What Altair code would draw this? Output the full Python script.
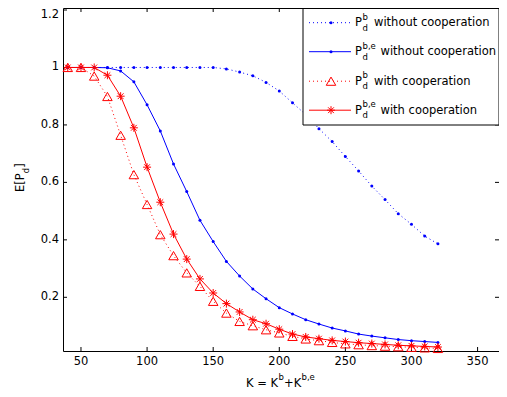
import altair as alt
import pandas as pd

# ---------------- data ----------------
K = [40, 50, 60, 70, 80, 90, 100, 110, 120, 130, 140, 150, 160, 170, 180,
     190, 200, 210, 220, 230, 240, 250, 260, 270, 280, 290, 300, 310, 320]
pb_without = [1.0, 1.0, 1.0, 1.0, 1.0, 1.0, 1.0, 1.0, 1.0, 1.0, 1.0, 1.0,
              0.995, 0.984, 0.971, 0.948, 0.918, 0.877, 0.836, 0.787, 0.742,
              0.69, 0.64, 0.587, 0.54, 0.491, 0.454, 0.413, 0.386]
pbe_without = [1.0, 1.0, 1.0, 0.999, 0.988, 0.950, 0.870, 0.779, 0.664, 0.568,
               0.468, 0.394, 0.325, 0.274, 0.229, 0.195, 0.164, 0.142, 0.122,
               0.107, 0.093, 0.083, 0.072, 0.065, 0.059, 0.053, 0.049, 0.046, 0.043]
pb_with = [1.0, 1.0, 0.97, 0.899, 0.764, 0.627, 0.523, 0.418, 0.345, 0.285,
           0.238, 0.186, 0.145, 0.116, 0.101, 0.087, 0.076, 0.064, 0.055,
           0.049, 0.043, 0.038, 0.035, 0.032, 0.030, 0.028, 0.026, 0.024, 0.022]
pbe_with = [1.0, 1.0, 1.0, 0.973, 0.900, 0.790, 0.653, 0.531, 0.420, 0.333,
            0.264, 0.215, 0.178, 0.149, 0.122, 0.108, 0.089, 0.072, 0.062,
            0.056, 0.050, 0.046, 0.042, 0.039, 0.036, 0.033, 0.031, 0.029, 0.027]
x_ticks = [50, 100, 150, 200, 250, 300, 350]
y_ticks = [0.2, 0.4, 0.6, 0.8, 1.0, 1.2]
x_domain = [36.4, 366.2]
y_domain = [0.0131, 1.207]

# ---------------- layout ----------------
W, H = 436, 343
FONT = "DejaVu Sans"
FS = 11.5
SUB = 8.5
BLUE = "#0000ff"
RED = "#ff0000"

df = pd.DataFrame({"K": K, "s1": pb_without, "s2": pbe_without,
                   "s3": pb_with, "s4": pbe_with})
xt = pd.DataFrame({"t": x_ticks})
yt = pd.DataFrame({"t": y_ticks})
dummy = pd.DataFrame({"d": [0]})

xs = alt.Scale(domain=x_domain, nice=False, zero=False)
ys = alt.Scale(domain=y_domain, nice=False, zero=False)

ASTER = "M-1,0H1M0,-1V1M-0.72,-0.72L0.72,0.72M-0.72,0.72L0.72,-0.72"


def series_line(col, color, dash=None):
    kw = dict(color=color, strokeWidth=1, clip=True)
    if dash:
        kw["strokeDash"] = dash
    return alt.Chart(df).mark_line(**kw).encode(
        x=alt.X("K:Q", scale=xs, axis=None),
        y=alt.Y(f"{col}:Q", scale=ys, axis=None))


def series_pts(col, shape, size, color, filled, sw=1):
    return alt.Chart(df).mark_point(shape=shape, size=size, filled=filled,
                                    color=color, strokeWidth=sw, opacity=1,
                                    fillOpacity=1 if filled else 0).encode(
        x=alt.X("K:Q", scale=xs, axis=None),
        y=alt.Y(f"{col}:Q", scale=ys, axis=None))


def txt(s, x, y, size=FS, angle=0):
    return alt.Chart(dummy).mark_text(
        text=s, font=FONT, fontSize=size, align="left", baseline="alphabetic",
        angle=angle, color="black").encode(x=alt.value(x), y=alt.value(y))


layers = []

# inner ticks on all four sides (box on, ticks inside)
layers.append(alt.Chart(xt).mark_rule(color="black", strokeWidth=1).encode(
    x=alt.X("t:Q", scale=xs, axis=None), y=alt.value(H), y2=alt.value(H - 4)))
layers.append(alt.Chart(xt).mark_rule(color="black", strokeWidth=1).encode(
    x=alt.X("t:Q", scale=xs, axis=None), y=alt.value(0), y2=alt.value(4)))
layers.append(alt.Chart(yt).mark_rule(color="black", strokeWidth=1).encode(
    y=alt.Y("t:Q", scale=ys, axis=None), x=alt.value(0), x2=alt.value(4)))
layers.append(alt.Chart(yt).mark_rule(color="black", strokeWidth=1).encode(
    y=alt.Y("t:Q", scale=ys, axis=None), x=alt.value(W - 4), x2=alt.value(W)))

# tick labels
layers.append(alt.Chart(xt).mark_text(
    font=FONT, fontSize=FS, color="black", align="center", baseline="top").encode(
    x=alt.X("t:Q", scale=xs, axis=None), y=alt.value(H + 5),
    text=alt.Text("t:Q", format="~g")))
layers.append(alt.Chart(yt).transform_filter("datum.t < 1.1").mark_text(
    font=FONT, fontSize=FS, color="black", align="right", baseline="middle").encode(
    y=alt.Y("t:Q", scale=ys, axis=None), x=alt.value(-4),
    text=alt.Text("t:Q", format="~g")))
layers.append(alt.Chart(yt).transform_filter("datum.t > 1.1").mark_text(
    font=FONT, fontSize=FS, color="black", align="right", baseline="middle",
    dy=5).encode(
    y=alt.Y("t:Q", scale=ys, axis=None), x=alt.value(-4),
    text=alt.Text("t:Q", format="~g")))

# series
layers.append(series_line("s1", BLUE, [1, 3]))
layers.append(series_pts("s1", "circle", 9, BLUE, True))
layers.append(series_line("s2", BLUE))
layers.append(series_pts("s2", "circle", 9, BLUE, True))
layers.append(series_line("s3", RED, [1, 3]))
layers.append(series_pts("s3", "triangle-up", 90, RED, False))
layers.append(series_line("s4", RED))
layers.append(series_pts("s4", ASTER, 64, RED, False))

# legend box
layers.append(alt.Chart(dummy).mark_rect(fill="white", stroke="black",
                                         strokeWidth=1).encode(
    x=alt.value(240), x2=alt.value(436), y=alt.value(0.5), y2=alt.value(117)))

entries = [
    ("b", "without cooperation", BLUE, [1, 3], "circle", 9, True, 18),
    ("b,e", "without cooperation", BLUE, None, "circle", 9, True, 47),
    ("b", "with cooperation", RED, [1, 3], "triangle-up", 90, False, 76.5),
    ("b,e", "with cooperation", RED, None, ASTER, 64, False, 105.5),
]
for sup, rest, color, dash, shape, size, filled, base in entries:
    ly = base - 3.3
    kw = dict(color=color, strokeWidth=1)
    if dash:
        kw["strokeDash"] = dash
    layers.append(alt.Chart(dummy).mark_rule(**kw).encode(
        x=alt.value(246), x2=alt.value(288), y=alt.value(ly)))
    layers.append(alt.Chart(dummy).mark_point(
        shape=shape, size=size, filled=filled, color=color, strokeWidth=1,
        opacity=1, fillOpacity=1 if filled else 0).encode(
        x=alt.value(268), y=alt.value(ly)))
    layers.append(txt("P", 292, base))
    layers.append(txt(sup, 299.5, base - 6.5, SUB))
    layers.append(txt("d", 299.5, base + 4.5, SUB))
    layers.append(txt(rest, 311 if sup == "b" else 317.5, base))

# x title: K = K^b+K^{b,e}
layers.append(txt("K = K", 183, 378.5))
layers.append(txt("b", 215.5, 372, SUB))
layers.append(txt("+K", 221, 378.5))
layers.append(txt("b,e", 238.5, 372, SUB))

# y title: E[P_d]
layers.append(txt("E[P", -39, 184, angle=270))
layers.append(txt("d", -34, 165.3, SUB, angle=270))
layers.append(txt("]", -39, 159.8, angle=270))

chart = alt.layer(*layers).properties(
    width=W, height=H,
    autosize=alt.AutoSizeParams(type="none"),
    padding={"left": 55, "top": 0, "right": 0, "bottom": 38},
    background="white",
).configure_view(stroke="black", strokeWidth=1)

chart.save("out.html", embed_options={"renderer": "svg", "actions": False})
